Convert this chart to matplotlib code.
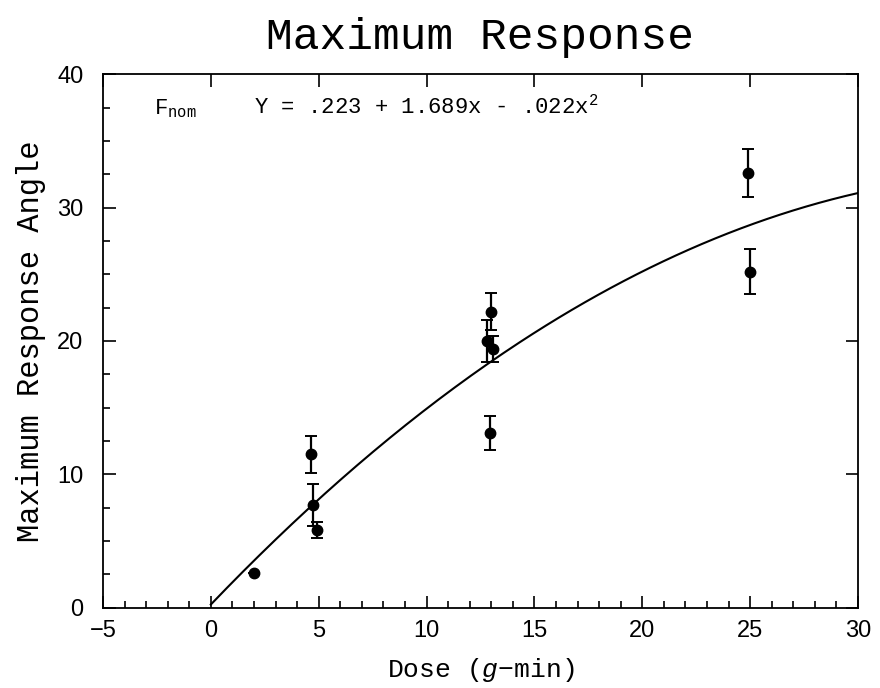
import numpy as np
import matplotlib
matplotlib.use("Agg")
import matplotlib.pyplot as plt
from matplotlib.ticker import MultipleLocator

# Data
dose = [2.0, 4.65, 4.75, 4.9, 12.8, 12.95, 13.0, 13.1, 24.9, 25.0]
angle = [2.6, 11.5, 7.7, 5.8, 20.0, 13.1, 22.2, 19.4, 32.6, 25.2]
err = [0.0, 1.4, 1.6, 0.6, 1.6, 1.3, 1.4, 1.0, 1.8, 1.7]

# fitted quadratic printed on the chart
coef = [0.223, 1.689, -0.022]

plt.rcParams['mathtext.fontset'] = 'custom'
plt.rcParams['mathtext.rm'] = 'Liberation Mono'
plt.rcParams['mathtext.it'] = 'Liberation Mono:italic'

fig = plt.figure(figsize=(8.8, 6.88), dpi=100)
ax = fig.add_axes([0.117, 0.117, 0.858, 0.775])

xs = np.linspace(0, 30, 200)
ax.plot(xs, coef[0] + coef[1] * xs + coef[2] * xs**2, color='black', lw=1.5)

ax.errorbar(dose, angle, yerr=err, fmt='o', color='black', ms=7.5,
            ecolor='black', elinewidth=1.6, capsize=4.5, capthick=1.4)

ax.set_xlim(-5, 30)
ax.set_ylim(0, 40)
ax.xaxis.set_major_locator(MultipleLocator(5))
ax.xaxis.set_minor_locator(MultipleLocator(1))
ax.yaxis.set_major_locator(MultipleLocator(10))
ax.yaxis.set_minor_locator(MultipleLocator(2.5))
ax.tick_params(which='both', direction='in', top=True, right=True, width=1.2)
ax.tick_params(which='major', length=9)
ax.tick_params(which='minor', length=5, top=False, right=False)
ax.tick_params(axis='x', labelsize=17, pad=9)
ax.tick_params(axis='y', labelsize=17, pad=14)
for lab in ax.get_xticklabels() + ax.get_yticklabels():
    lab.set_family('Liberation Sans')
for s in ax.spines.values():
    s.set_linewidth(1.3)

ax.set_title("Maximum Response", fontsize=32, family='Liberation Mono', pad=18)
ax.set_ylabel("Maximum Response Angle", fontsize=22, family='Liberation Mono', labelpad=8)
ax.set_xlabel(r"Dose ($\mathit{g}$$-$min)", fontsize=19, family='Liberation Mono', labelpad=10)

ax.text(0.068, 0.935, r"F$_{\mathrm{nom}}$", transform=ax.transAxes,
        fontsize=16, family='Liberation Mono', va='center')
ax.text(0.2, 0.94, r"Y = .223 + 1.689x - .022x$^{2}$", transform=ax.transAxes,
        fontsize=16, family='Liberation Mono', va='center')

fig.savefig("out.png", dpi=100)
